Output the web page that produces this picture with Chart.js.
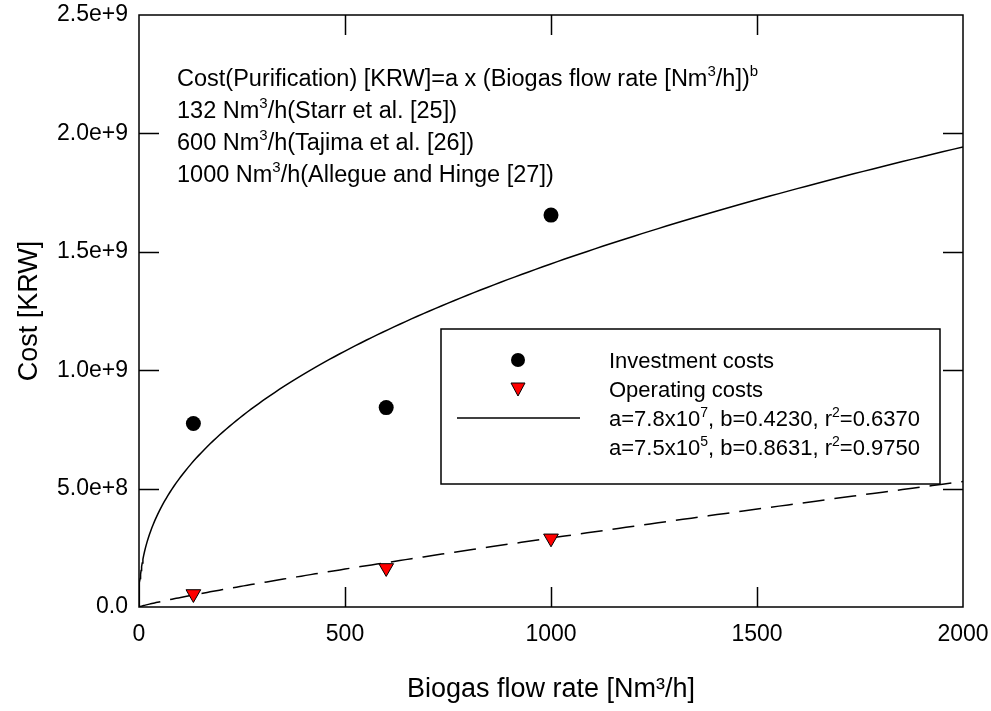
<!DOCTYPE html>
<html>
<head>
<meta charset="utf-8">
<script src="https://cdn.jsdelivr.net/npm/chart.js@4.4.1/dist/chart.umd.min.js"></script>
<style>
  body { margin: 0; background: #fff; }
  canvas { display: block; }
</style>
</head>
<body>
<canvas id="costChart" width="991" height="711"></canvas>
<script>
// Measured plant sizes and costs
const flowRates = [132, 600, 1000];
const investmentCosts = [7.75e8, 8.42e8, 1.655e9];
const operatingCosts = [5.5e7, 1.65e8, 2.9e8];

// Power-law fits: cost = a * flow^b  (investment, operating)
const fitA = [7.8e7, 7.5e5];
const fitB = [0.4230, 0.8631];
const fitR2 = [0.6370, 0.9750];
const fitMaxFlow = 2000;

// Text block in the upper left; '^' marks a superscript piece
const noteLines = [
  ['Cost(Purification) [KRW]=a x (Biogas flow rate [Nm', '^3', '/h])', '^b'],
  ['132 Nm', '^3', '/h(Starr et al. [25])'],
  ['600 Nm', '^3', '/h(Tajima et al. [26])'],
  ['1000 Nm', '^3', '/h(Allegue and Hinge [27])']
];

const FONT = '"Liberation Sans", Arial, Helvetica, sans-serif';

function fitCurve(k) {
  const pts = [];
  const n = 160;
  for (let i = 0; i <= n; i++) {
    const x = fitMaxFlow * Math.pow(i / n, 2);
    pts.push({ x: x, y: fitA[k] * Math.pow(x, fitB[k]) });
  }
  return pts;
}

function drawRich(ctx, x, y, parts, size) {
  ctx.textBaseline = 'alphabetic';
  ctx.textAlign = 'left';
  let cx = x;
  parts.forEach(p => {
    if (p.startsWith('^')) {
      const t = p.slice(1);
      ctx.font = Math.round(size * 0.62) + 'px ' + FONT;
      ctx.fillText(t, cx, y - size * 0.42);
      cx += ctx.measureText(t).width;
    } else {
      ctx.font = size + 'px ' + FONT;
      ctx.fillText(p, cx, y);
      cx += ctx.measureText(p).width;
    }
  });
}

function fmtExp(v) {
  if (v === 0) return '0.0';
  return v.toExponential(1);
}

const points = (xs, ys) => xs.map((x, i) => ({ x: x, y: ys[i] }));

// Frame, inward tick marks, note text and legend box
const decorations = {
  id: 'decorations',
  afterDatasetsDraw(chart) {
    const { ctx, chartArea: a, scales } = chart;
    const tickLen = 20;
    ctx.save();
    ctx.strokeStyle = '#000';
    ctx.lineWidth = 1.5;
    ctx.beginPath();
    scales.x.ticks.forEach(t => {
      if (t.value <= scales.x.min || t.value >= scales.x.max) return;
      const px = Math.round(scales.x.getPixelForValue(t.value)) + 0.5;
      ctx.moveTo(px, a.bottom); ctx.lineTo(px, a.bottom - tickLen);
      ctx.moveTo(px, a.top); ctx.lineTo(px, a.top + tickLen);
    });
    scales.y.ticks.forEach(t => {
      if (t.value <= scales.y.min || t.value >= scales.y.max) return;
      const py = Math.round(scales.y.getPixelForValue(t.value)) + 0.5;
      ctx.moveTo(a.left, py); ctx.lineTo(a.left + tickLen, py);
      ctx.moveTo(a.right, py); ctx.lineTo(a.right - tickLen, py);
    });
    ctx.stroke();
    ctx.strokeRect(a.left, a.top, a.right - a.left, a.bottom - a.top);

    // note text
    ctx.fillStyle = '#000';
    const noteY = [86, 118, 150, 182];
    noteLines.forEach((parts, i) => drawRich(ctx, a.left + 38, noteY[i], parts, 23.5));

    // legend
    const lx = 441, ly = 329, lw = 499, lh = 155;
    ctx.fillStyle = '#fff';
    ctx.fillRect(lx, ly, lw, lh);
    ctx.lineWidth = 1.5;
    ctx.strokeRect(lx, ly, lw, lh);
    const rowY = [360, 389, 418, 447];
    const symX = 518, textX = 609;
    ctx.fillStyle = '#000';
    ctx.beginPath();
    ctx.arc(symX, rowY[0], 7, 0, Math.PI * 2);
    ctx.fill();
    ctx.beginPath();
    ctx.moveTo(symX - 7, rowY[1] - 6);
    ctx.lineTo(symX + 7, rowY[1] - 6);
    ctx.lineTo(symX, rowY[1] + 7);
    ctx.closePath();
    ctx.fillStyle = '#ff0000';
    ctx.fill();
    ctx.lineWidth = 1;
    ctx.stroke();
    ctx.lineWidth = 1.5;
    ctx.beginPath();
    ctx.moveTo(457, rowY[2]); ctx.lineTo(580, rowY[2]);
    ctx.stroke();
    ctx.fillStyle = '#000';
    const legendRows = [
      ['Investment costs'],
      ['Operating costs'],
      ['a=7.8x10', '^7', ', b=' + fitB[0].toFixed(4) + ', r', '^2', '=' + fitR2[0].toFixed(4)],
      ['a=7.5x10', '^5', ', b=' + fitB[1].toFixed(4) + ', r', '^2', '=' + fitR2[1].toFixed(4)]
    ];
    legendRows.forEach((parts, i) => drawRich(ctx, textX, rowY[i] + 8, parts, 22));
    ctx.restore();
  }
};

new Chart(document.getElementById('costChart'), {
  type: 'scatter',
  data: {
    datasets: [
      {
        label: 'Investment costs',
        data: points(flowRates, investmentCosts),
        pointStyle: 'circle',
        pointRadius: 7.5,
        backgroundColor: '#000',
        borderColor: '#000',
        borderWidth: 0
      },
      {
        label: 'Operating costs',
        data: points(flowRates, operatingCosts),
        pointStyle: 'triangle',
        rotation: 180,
        pointRadius: 8.5,
        backgroundColor: '#ff0000',
        borderColor: '#000',
        borderWidth: 1
      },
      {
        label: 'Investment fit',
        data: fitCurve(0),
        showLine: true,
        pointRadius: 0,
        borderColor: '#000',
        borderWidth: 1.5,
        tension: 0
      },
      {
        label: 'Operating fit',
        data: fitCurve(1),
        showLine: true,
        pointRadius: 0,
        borderColor: '#000',
        borderWidth: 1.5,
        borderDash: [22, 10],
        tension: 0
      }
    ]
  },
  options: {
    responsive: false,
    animation: false,
    layout: { padding: { left: 0, top: 15, right: 28, bottom: 0 } },
    plugins: {
      legend: { display: false },
      tooltip: { enabled: false }
    },
    scales: {
      x: {
        type: 'linear',
        min: 0,
        max: 2000,
        grid: { display: false, drawTicks: false },
        border: { display: false },
        ticks: {
          stepSize: 500,
          padding: 14,
          color: '#000',
          maxRotation: 0,
          font: { family: FONT, size: 23 },
          callback: v => String(v)
        },
        title: {
          display: true,
          text: 'Biogas flow rate [Nm³/h]',
          color: '#000',
          font: { family: FONT, size: 27 },
          padding: { top: 0, bottom: 5 }
        },
        afterFit(scale) {
          scale.height = 104;
          scale.paddingLeft = 0;
          scale.paddingRight = 0;
        }
      },
      y: {
        type: 'linear',
        min: 0,
        max: 2.5e9,
        grid: { display: false, drawTicks: false },
        border: { display: false },
        ticks: {
          stepSize: 5e8,
          padding: 11,
          color: '#000',
          font: { family: FONT, size: 23 },
          callback: v => fmtExp(v)
        },
        title: {
          display: true,
          text: 'Cost [KRW]',
          color: '#000',
          font: { family: FONT, size: 27 },
          padding: { top: 13, bottom: 0 }
        },
        afterFit(scale) {
          scale.width = 139;
          scale.paddingTop = 0;
          scale.paddingBottom = 0;
        }
      }
    }
  },
  plugins: [decorations]
});
</script>
</body>
</html>
